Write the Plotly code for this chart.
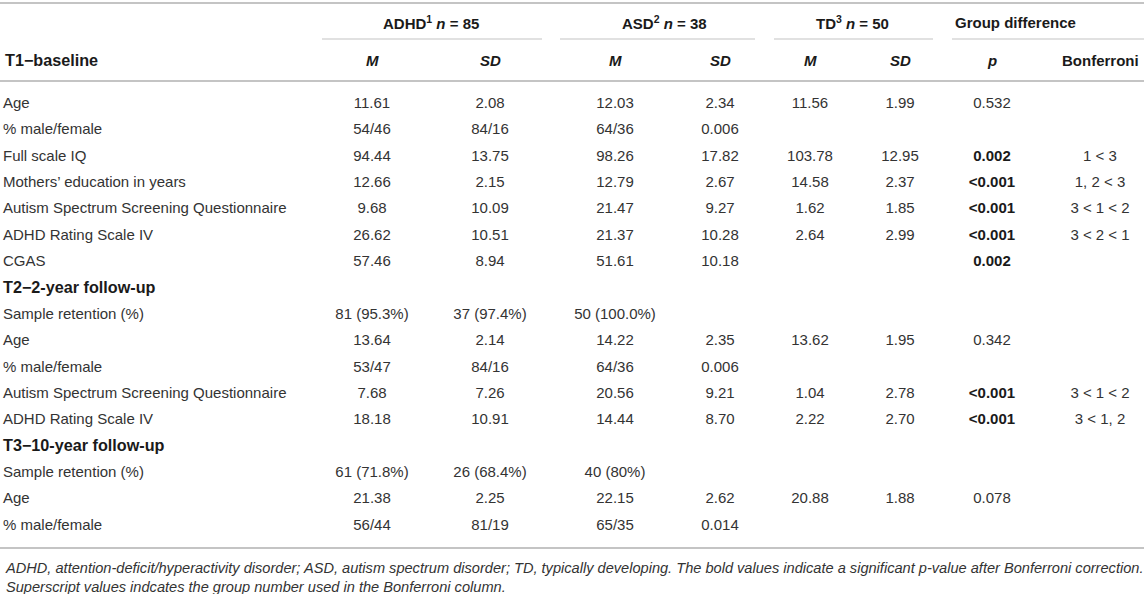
import plotly.graph_objects as go

# table body, one entry per row ("" = empty cell)
row_labels = [
    "Age", "% male/female", "Full scale IQ", "Mothers’ education in years",
    "Autism Spectrum Screening Questionnaire", "ADHD Rating Scale IV", "CGAS",
    "T2−2-year follow-up",
    "Sample retention (%)", "Age", "% male/female",
    "Autism Spectrum Screening Questionnaire", "ADHD Rating Scale IV",
    "T3−10-year follow-up",
    "Sample retention (%)", "Age", "% male/female",
]
section_rows = [7, 13]

adhd_m = ["11.61", "54/46", "94.44", "12.66", "9.68", "26.62", "57.46", "",
          "81 (95.3%)", "13.64", "53/47", "7.68", "18.18", "",
          "61 (71.8%)", "21.38", "56/44"]
adhd_sd = ["2.08", "84/16", "13.75", "2.15", "10.09", "10.51", "8.94", "",
           "37 (97.4%)", "2.14", "84/16", "7.26", "10.91", "",
           "26 (68.4%)", "2.25", "81/19"]
asd_m = ["12.03", "64/36", "98.26", "12.79", "21.47", "21.37", "51.61", "",
         "50 (100.0%)", "14.22", "64/36", "20.56", "14.44", "",
         "40 (80%)", "22.15", "65/35"]
asd_sd = ["2.34", "0.006", "17.82", "2.67", "9.27", "10.28", "10.18", "",
          "", "2.35", "0.006", "9.21", "8.70", "",
          "", "2.62", "0.014"]
td_m = ["11.56", "", "103.78", "14.58", "1.62", "2.64", "", "",
        "", "13.62", "", "1.04", "2.22", "",
        "", "20.88", ""]
td_sd = ["1.99", "", "12.95", "2.37", "1.85", "2.99", "", "",
         "", "1.95", "", "2.78", "2.70", "",
         "", "1.88", ""]
p_value = ["0.532", "", "0.002", "<0.001", "<0.001", "<0.001", "0.002", "",
           "", "0.342", "", "<0.001", "<0.001", "",
           "", "0.078", ""]
p_bold = [False, False, True, True, True, True, True, False,
          False, False, False, True, True, False,
          False, False, False]
bonferroni = ["", "", "1 < 3", "1, 2 < 3", "3 < 1 < 2", "3 < 2 < 1", "", "",
              "", "", "", "3 < 1 < 2", "3 < 1, 2", "",
              "", "", ""]

groups = ["ADHD", "ASD", "TD"]
group_n = [85, 38, 50]
sub_headers = ["<i>M</i>", "<i>SD</i>", "<i>M</i>", "<i>SD</i>",
               "<i>M</i>", "<i>SD</i>", "<i>p</i>", "Bonferroni"]
first_header = "T1−baseline"

footnote = ("<i>ADHD, attention-deficit/hyperactivity disorder; ASD, autism spectrum disorder; "
            "TD, typically developing. The bold values indicate a significant p-value after "
            "Bonferroni correction.<br>Superscript values indcates the group number used in "
            "the Bonferroni column.</i>")

# ---- layout (pixels of the 1144x594 page) ----
W, H = 1144, 594
COL_X = [372, 490, 615, 720, 810, 900, 992, 1100]
GROUP_X = [431, 664, 852, 1015]
GROUP_LINES = [(322, 542), (560, 755), (774, 933), (952, 1144)]
ROW0_PX, ROW_PX = 104, 26.375
FONT = "Liberation Sans, Arial, Helvetica, sans-serif"
TXT = "#333333"
HEAD = "#1a1a1a"
RULE = "#c4c4c4"
FS = 15
FS_SECTION = 16.2


def py(px):
    # page pixel -> row units of the y axis
    return (px - ROW0_PX) / ROW_PX


def esc(s):
    return s.replace("<", "&lt;")


rows = list(range(len(row_labels)))
fig = go.Figure()

# row labels
is_sec = [i in section_rows for i in rows]
label_txt = [f"<b>{esc(t)}</b>" if s else esc(t) for t, s in zip(row_labels, is_sec)]
fig.add_trace(go.Scatter(
    x=[3] * len(rows), y=rows, mode="text", text=label_txt,
    textposition="middle right",
    textfont=dict(family=FONT,
                  size=[FS_SECTION if s else FS for s in is_sec],
                  color=[HEAD if s else TXT for s in is_sec]),
    hoverinfo="skip", showlegend=False))

p_txt = [f"<b>{esc(v)}</b>" if b and v else esc(v) for v, b in zip(p_value, p_bold)]
columns = [adhd_m, adhd_sd, asd_m, asd_sd, td_m, td_sd, p_txt,
           [esc(v) for v in bonferroni]]
for cx, col in zip(COL_X, columns):
    fig.add_trace(go.Scatter(
        x=[cx] * len(rows), y=rows, mode="text", text=col,
        textposition="middle center",
        textfont=dict(family=FONT, size=FS, color=[HEAD if "<b>" in c else TXT for c in col]),
        hoverinfo="skip", showlegend=False))

annotations = []
for gx, g, n, k in zip(GROUP_X, groups, group_n, range(1, 4)):
    annotations.append(dict(
        x=gx, y=py(22), text=f"<b>{g}<sup>{k}</sup> <i>n</i> = {n}</b>",
        showarrow=False, xanchor="center", yanchor="middle",
        font=dict(family=FONT, size=FS, color=HEAD)))
annotations.append(dict(
    x=GROUP_X[3], y=py(22), text="<b>Group difference</b>",
    showarrow=False, xanchor="center", yanchor="middle",
    font=dict(family=FONT, size=FS, color=HEAD)))
annotations.append(dict(
    x=3, y=py(60), text=f"<b>{first_header}</b>",
    showarrow=False, xanchor="left", yanchor="middle",
    font=dict(family=FONT, size=FS_SECTION, color=HEAD)))
for cx, t in zip(COL_X, sub_headers):
    annotations.append(dict(
        x=cx, y=py(60), text=f"<b>{t}</b>",
        showarrow=False, xanchor="center", yanchor="middle",
        font=dict(family=FONT, size=FS, color=HEAD)))
annotations.append(dict(
    x=3, y=py(577), text=footnote, align="left",
    showarrow=False, xanchor="left", yanchor="middle",
    font=dict(family=FONT, size=14.6, color=TXT)))

shapes = [
    dict(type="line", x0=0, x1=W, y0=py(3), y1=py(3), line=dict(color=RULE, width=2)),
    dict(type="line", x0=0, x1=W, y0=py(81), y1=py(81), line=dict(color=RULE, width=2)),
    dict(type="line", x0=0, x1=W, y0=py(548), y1=py(548), line=dict(color=RULE, width=2)),
]
for x0, x1 in GROUP_LINES:
    shapes.append(dict(type="line", x0=x0, x1=x1, y0=py(39), y1=py(39),
                       line=dict(color=RULE, width=1.2)))

fig.update_layout(
    width=W, height=H,
    margin=dict(l=0, r=0, t=0, b=0),
    paper_bgcolor="white", plot_bgcolor="white",
    xaxis=dict(range=[0, W], visible=False, fixedrange=True),
    yaxis=dict(range=[py(H), py(0)], visible=False, fixedrange=True),
    annotations=annotations, shapes=shapes,
)

fig.write_html(
    "out.html", config={"displayModeBar": False},
    post_script="document.body.style.margin='0';document.body.style.overflow='hidden';")
